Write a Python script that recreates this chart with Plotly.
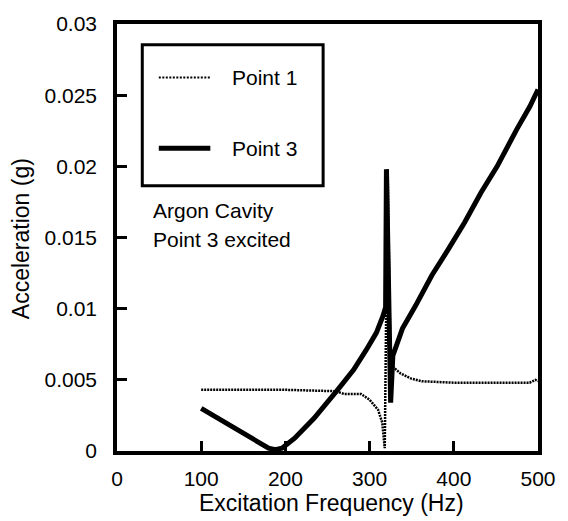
import plotly.graph_objects as go

# ---- data ----
freq_p3 = [100, 120, 140, 160, 180, 188, 196, 211, 234, 262, 281, 296, 308, 316, 319,
           320, 325, 327.6, 339, 354.5, 374, 393.4, 412.8, 432.2, 451.5, 474.6, 490.3, 500]
acc_p3 = [0.0030, 0.0023, 0.00155, 0.00085, 0.0002, 0.0001, 0.0002, 0.0009, 0.0023, 0.0043,
          0.0057, 0.0071, 0.0083, 0.0095, 0.0101,
          0.0198, 0.0034, 0.0067, 0.0086, 0.0102, 0.01235, 0.01416, 0.01605, 0.01814,
          0.0200, 0.02258, 0.0242, 0.0254]

freq_p1 = [100, 150, 200, 260, 270, 290, 300, 310, 315, 318, 321.5, 325, 328, 336.7, 349,
           362, 400, 450, 490, 497, 500]
acc_p1 = [0.0043, 0.0043, 0.0043, 0.0042, 0.0040, 0.0040, 0.0036, 0.0029, 0.0020, 0.0002,
          0.0198, 0.0055, 0.0059, 0.00545, 0.0051, 0.0049, 0.0048, 0.0048, 0.0048, 0.0050, 0.0049]

x_ticks = [0, 100, 200, 300, 400, 500]
y_ticks = [0, 0.005, 0.01, 0.015, 0.02, 0.025, 0.03]
y_ticktext = ["0", "0.005", "0.01", "0.015", "0.02", "0.025", "0.03"]

series_names = ["Point 1", "Point 3"]
note_lines = ["Argon Cavity", "Point 3 excited"]

FONT = "Liberation Sans, Arial, Helvetica, sans-serif"
W, H = 568, 521
L, R, T, B = 117, 18, 21, 70
PW, PH = W - L - R, H - T - B


def px(xp):
    return (xp - L) / PW


def py(yp):
    return (H - B - yp) / PH


DOT = dict(color="black", width=2.5, dash="2px,1px")

fig = go.Figure()
fig.add_trace(go.Scatter(x=freq_p1, y=acc_p1, mode="lines", name=series_names[0], line=DOT))
fig.add_trace(go.Scatter(x=freq_p3, y=acc_p3, mode="lines", name=series_names[1],
                         line=dict(color="black", width=5)))

axis_common = dict(showgrid=False, zeroline=False, showline=True, linecolor="black",
                   linewidth=3.5, mirror=True, ticks="inside", ticklen=10, tickwidth=3,
                   tickcolor="black", tickfont=dict(family=FONT, size=21, color="black"))

fig.update_xaxes(range=[0, 500], tickvals=x_ticks, ticklabelstandoff=6, **axis_common)
fig.update_yaxes(range=[0, 0.03], tickvals=y_ticks, ticktext=y_ticktext,
                 ticklabelstandoff=12, **axis_common)

shapes = [
    dict(type="rect", xref="paper", yref="paper", x0=px(143), x1=px(329), y0=py(184), y1=py(42),
         line=dict(color="black", width=3), fillcolor="rgba(0,0,0,0)"),
    dict(type="line", xref="paper", yref="paper", x0=px(160), x1=px(213), y0=py(75), y1=py(75),
         line=dict(color="black", width=2, dash="2px,1.5px")),
    dict(type="line", xref="paper", yref="paper", x0=px(160), x1=px(213), y0=py(146), y1=py(146),
         line=dict(color="black", width=5)),
]

ann_font = dict(family=FONT, size=21, color="black")
annotations = [
    dict(xref="paper", yref="paper", x=px(233), y=py(75), text=series_names[0], showarrow=False,
         xanchor="left", yanchor="middle", font=ann_font),
    dict(xref="paper", yref="paper", x=px(233), y=py(146), text=series_names[1], showarrow=False,
         xanchor="left", yanchor="middle", font=ann_font),
    dict(xref="paper", yref="paper", x=px(152), y=py(209), text=note_lines[0], showarrow=False,
         xanchor="left", yanchor="middle", font=ann_font),
    dict(xref="paper", yref="paper", x=px(152), y=py(238), text=note_lines[1], showarrow=False,
         xanchor="left", yanchor="middle", font=ann_font),
    dict(xref="paper", yref="paper", x=px(338), y=py(503), text="Excitation Frequency (Hz)",
         showarrow=False, xanchor="center", yanchor="middle",
         font=dict(family=FONT, size=23, color="black")),
    dict(xref="paper", yref="paper", x=px(19), y=py(237), text="Acceleration (g)",
         showarrow=False, xanchor="center", yanchor="middle", textangle=-90,
         font=dict(family=FONT, size=23, color="black")),
]

fig.update_layout(width=W, height=H, margin=dict(l=L, r=R, t=T, b=B, pad=0),
                  paper_bgcolor="white", plot_bgcolor="white", showlegend=False,
                  shapes=shapes, annotations=annotations)

fig.write_html("out.html")
